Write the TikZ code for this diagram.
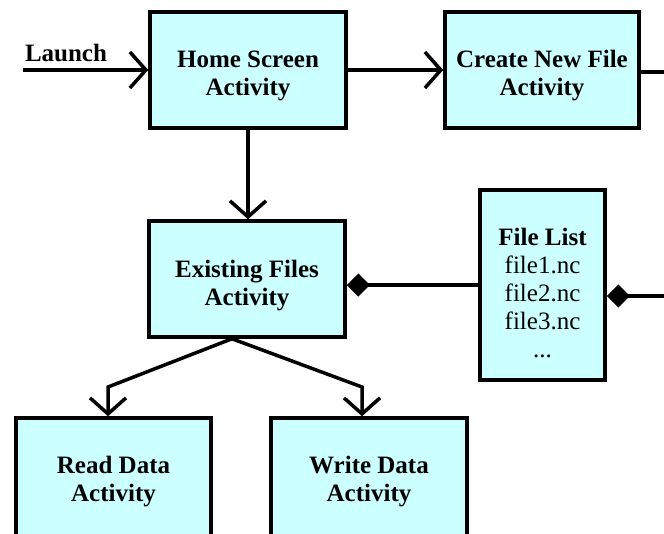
\documentclass[tikz,border=0pt]{standalone}
\usepackage{fontspec}
\setmainfont{Liberation Serif}
\usetikzlibrary{arrows.meta, calc}

\definecolor{actfill}{RGB}{204,255,255}
\newcommand{\actfont}{\fontsize{25}{28}\selectfont}
% extra room above the first line, pushes the text a bit down
\newcommand{\lift}[1][28pt]{\rule{0pt}{#1}}

\tikzset{
  box/.style={draw, line width=3.5pt, fill=actfill, align=center, font=\actfont, inner sep=2pt},
  activity/.style={box, font=\actfont\bfseries},
  conn/.style={line width=3.5pt},
  openarrow/.style={conn, -{Straight Barb[length=16pt, width=36pt]}},
  diamondend/.style={conn, {Diamond[length=23pt, width=23pt]}-},
}

\begin{document}
\begin{tikzpicture}[x=1pt, y=-1pt]
  \useasboundingbox (0,0) rectangle (664,533);
  \clip (0,0) rectangle (664,533);
  % activities
  \node[activity, minimum width=196pt, minimum height=116pt] (home) at (248,70) {\lift Home Screen\\Activity};
  \node[activity, minimum width=194pt, minimum height=116pt] (create) at (542,70) {\lift Create New File\\Activity};
  \node[activity, minimum width=196pt, minimum height=116pt] (existing) at (247,279) {\lift[30pt]Existing Files\\Activity};
  \node[box, minimum width=125pt, minimum height=190pt] (filelist) at (542.5,285) {\lift[34pt]\textbf{File List}\\file1.nc\\file2.nc\\file3.nc\\...};
  \node[activity, minimum width=195pt, minimum height=120pt] (read) at (113.5,478) {\lift[24pt]Read Data\\Activity};
  \node[activity, minimum width=196pt, minimum height=120pt] (write) at (369,478) {\lift[24pt]Write Data\\Activity};

  % launch
  \coordinate (launchstart) at (23,70);
  \node[font=\actfont\bfseries, inner sep=0pt] (launchlbl) at (66,53) {Launch};
  \draw[openarrow] (launchstart) -- (home.west);

  \draw[openarrow] (home.east) -- (create.west);
  \coordinate (createout) at (664,72);
  \draw[conn] (create.east |- createout) -- (createout);
  \draw[openarrow] (home.south) -- (home.south |- existing.north);

  % file list
  \draw[diamondend] ([yshift=-6pt]existing.east) -- ([yshift=-6pt]existing.east -| filelist.west);
  \coordinate (listout) at (664,296);
  \draw[diamondend] (filelist.east |- listout) -- (listout);

  % read / write
  \coordinate (split) at ([xshift=-15pt]existing.south);
  \coordinate (readbend) at (108,387);
  \coordinate (writebend) at (362,387);
  \draw[openarrow] (split) -- (readbend) -- (readbend |- read.north);
  \draw[openarrow] (split) -- (writebend) -- (writebend |- write.north);
\end{tikzpicture}
\end{document}
